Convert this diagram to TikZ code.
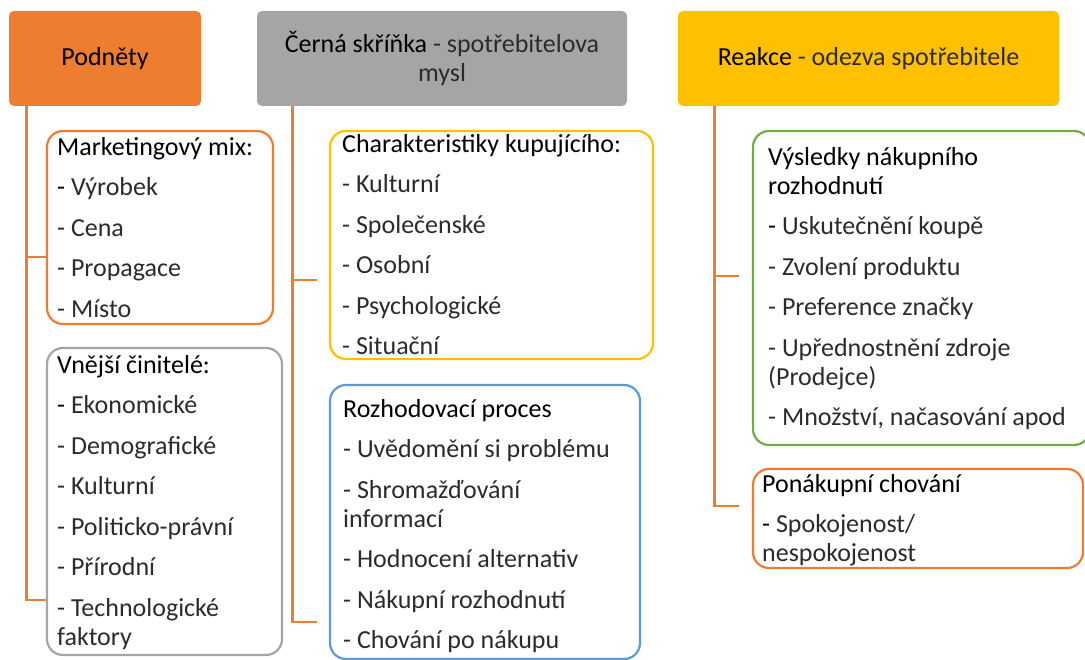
\documentclass[tikz,border=0pt]{standalone}
\usepackage{fontspec}
\setmainfont{Carlito}
\definecolor{podOrange}{HTML}{ED7D31}
\definecolor{boxGray}{HTML}{A5A5A5}
\definecolor{reakceGold}{HTML}{FFC000}
\definecolor{procBlue}{HTML}{5B9BD5}
\definecolor{resGreen}{HTML}{70AD47}
\definecolor{lightInk}{HTML}{2B2B2B}
\newcommand{\hd}[1]{{\color{black}#1}}
\newcommand{\itemgap}{\\[11.5pt]}
\begin{document}
\begin{tikzpicture}[x=1pt,y=-1pt,font=\fontsize{26}{29}\selectfont,
  head/.style={rounded corners=5pt, minimum height=95pt, align=center, inner sep=0pt, text=lightInk},
  frame/.style={draw, line width=2.2pt, rounded corners=16pt, inner sep=0pt},
  items/.style={anchor=north west, align=left, inner sep=0pt, text=lightInk},
  link/.style={draw=podOrange, line width=2.8pt}]
  \useasboundingbox (0,0) rectangle (1085,660);

  % header boxes
  \node[head, fill=podOrange, minimum width=192pt] (pod) at (105,58.5) {\hd{Podněty}};
  \node[head, fill=boxGray, minimum width=370pt] (cerna) at (442,58.5) {\hd{Černá skříňka} - spotřebitelova\\mysl};
  \node[head, fill=reakceGold, minimum width=381pt] (reakce) at (868.5,58.5) {\hd{Reakce} - odezva spotřebitele};

  % frames
  \node[frame, draw=podOrange, minimum width=226pt, minimum height=193pt] (mkt) at (160,227.5) {};
  \node[frame, draw=boxGray, minimum width=235pt, minimum height=307pt] (ext) at (164.5,501.5) {};
  \node[frame, draw=reakceGold, minimum width=323pt, minimum height=228pt] (cha) at (491.5,245) {};
  \node[frame, draw=procBlue, minimum width=310pt, minimum height=274pt] (dec) at (485,522) {};
  \node[frame, draw=resGreen, minimum width=337pt, minimum height=314pt] (res) at (921.5,288) {};
  \node[frame, draw=podOrange, minimum width=330pt, minimum height=99pt] (post) at (918,518.5) {};

  % connectors
  \draw[link] ([xshift=18pt]pod.south west) |- ([yshift=-29.5pt]mkt.west);
  \draw[link] ([xshift=18pt]pod.south west) |- ([yshift=-98.5pt]ext.west);
  \draw[link] ([xshift=36pt]cerna.south west) |- ([xshift=-12pt,yshift=-35pt]cha.west);
  \draw[link] ([xshift=36pt]cerna.south west) |- ([xshift=-12pt,yshift=-100pt]dec.west);
  \draw[link] ([xshift=37pt]reakce.south west) |- ([xshift=-13pt,yshift=12pt]res.west);
  \draw[link] ([xshift=37pt]reakce.south west) |- ([xshift=-13pt,yshift=12.5pt]post.west);

  % texts (first baseline 20.3pt below the top)
  \node[items] (mktT) at (57,134.7) {\strut\hd{Marketingový mix:}\itemgap\hd{-} Výrobek\itemgap- Cena\itemgap- Propagace\itemgap- Místo};
  \node[items] (extT) at (57,352.7) {\strut\hd{Vnější činitelé:}\itemgap\hd{-} Ekonomické\itemgap- Demografické\itemgap- Kulturní\itemgap- Politicko-právní\itemgap- Přírodní\itemgap- Technologické\\faktory};
  \node[items] (chaT) at (342,131.7) {\strut\hd{Charakteristiky kupujícího:}\itemgap- Kulturní\itemgap- Společenské\itemgap- Osobní\itemgap- Psychologické\itemgap- Situační};
  \node[items] (decT) at (343,396.7) {\strut\hd{Rozhodovací proces}\itemgap- Uvědomění si problému\itemgap- Shromažďování\\informací\itemgap- Hodnocení alternativ\itemgap- Nákupní rozhodnutí\itemgap- Chování po nákupu};
  \node[items] (resT) at (768,144.7) {\strut\hd{Výsledky nákupního}\\\hd{rozhodnutí}\itemgap\hd{-} Uskutečnění koupě\itemgap- Zvolení produktu\itemgap- Preference značky\itemgap- Upřednostnění zdroje\\(Prodejce)\itemgap- Množství, načasování apod};
  \node[items] (postT) at (762,471.7) {\strut\hd{Ponákupní chování}\itemgap\hd{-} Spokojenost/\\nespokojenost};
\end{tikzpicture}
\end{document}
